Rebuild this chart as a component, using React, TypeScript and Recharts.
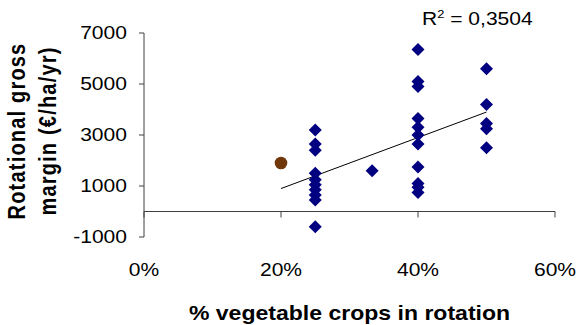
import {
  ScatterChart,
  Scatter,
  XAxis,
  YAxis,
  ReferenceLine,
} from "recharts";

// Gross margin per rotation, grouped by share of vegetable crops (%).
const SHARE_25 = [3200, 2650, 2400, 1500, 1250, 1050, 850, 650, 450, -600];
const SHARE_33 = [1600];
const SHARE_40 = [6350, 5100, 4900, 3650, 3300, 3000, 2650, 1750, 1100, 950, 750];
const SHARE_50 = [5600, 4200, 3450, 3250, 2500];

// The odd one out, drawn as a brown dot.
const OUTLIER = [{ x: 20, y: 1900 }];

// Linear trend as drawn in the source (ends).
const TREND = [
  { x: 20, y: 900 },
  { x: 50, y: 3900 },
];
const R2_LABEL = "0,3504";

const X_TICKS = [0, 20, 40, 60];
const Y_TICKS = [-1000, 1000, 3000, 5000, 7000];

const FONT = "'Liberation Sans', Arial, sans-serif";
const AXIS = "#404040";
const NAVY = "#000080";
// source picture is stretched a bit sideways, so is its text
const SX = 1.17;
// pixel row of the y = 0 line (plot top 33, height 204, domain -1000..7000)
const ZERO_Y = 33 + (7000 / 8000) * 204;

const points = [
  ...SHARE_25.map((y) => ({ x: 25, y })),
  ...SHARE_33.map((y) => ({ x: 33.3, y })),
  ...SHARE_40.map((y) => ({ x: 40, y })),
  ...SHARE_50.map((y) => ({ x: 50, y })),
];

function SText({
  x,
  y,
  anchor = "start",
  dy,
  size = 18,
  bold = false,
  rotate = false,
  spacing = 0,
  children,
}: any) {
  return (
    <g transform={`translate(${x},${y}) scale(${SX},1)${rotate ? " rotate(-90)" : ""}`}>
      <text
        x={0}
        y={0}
        dy={dy}
        textAnchor={anchor}
        fontFamily={FONT}
        fontSize={size}
        fontWeight={bold ? "bold" : "normal"}
        letterSpacing={spacing}
        fill="#000"
      >
        {children}
      </text>
    </g>
  );
}

function Diamond({ cx, cy }: any) {
  const r = 6.5;
  return (
    <polygon
      points={`${cx},${cy - r} ${cx + r},${cy} ${cx},${cy + r} ${cx - r},${cy}`}
      fill={NAVY}
    />
  );
}

function Dot({ cx, cy }: any) {
  return <circle cx={cx} cy={cy} r={6.3} fill="#70380a" />;
}

function XTick({ x, y, payload }: any) {
  return (
    <g>
      <line x1={x} x2={x} y1={ZERO_Y} y2={ZERO_Y + 6} stroke={AXIS} />
      <SText x={x} y={y} anchor="middle" dy="0.71em">
        {`${payload.value}%`}
      </SText>
    </g>
  );
}

function YTick({ x, y, payload }: any) {
  return (
    <SText x={x} y={y} anchor="end" dy="0.355em">
      {payload.value}
    </SText>
  );
}

// Y title (two lines) plus the R² note in the top right.
function Titles() {
  return (
    <g>
      <SText x={17} y={131} anchor="middle" dy="0.35em" size={20} bold rotate spacing={1.2}>
        Rotational gross
      </SText>
      <SText x={48} y={131} anchor="middle" dy="0.35em" size={20} bold rotate spacing={1.2}>
        margin (€/ha/yr)
      </SText>
      <SText x={422} y={25} size={18}>
        R<tspan fontSize={11} dy={-7}>2</tspan>
        <tspan dy={7}>{` = ${R2_LABEL}`}</tspan>
      </SText>
    </g>
  );
}

function XTitle({ viewBox }: any) {
  const cx = viewBox.x + viewBox.width / 2;
  return (
    <SText x={cx} y={319.5} anchor="middle" size={19.7} bold>
      % vegetable crops in rotation
    </SText>
  );
}

export default function App() {
  return (
    <div style={{ position: "absolute", left: 0, top: 0, background: "#fff" }}>
      <ScatterChart
        width={577}
        height={325}
        margin={{ top: 33, right: 22, left: 84, bottom: 58 }}
      >
        <XAxis
          type="number"
          dataKey="x"
          domain={[0, 60]}
          ticks={X_TICKS}
          axisLine={false}
          tickLine={false}
          tickSize={6}
          tickMargin={20}
          height={30}
          tick={<XTick />}
          label={{ content: <XTitle /> }}
        />
        <YAxis
          type="number"
          dataKey="y"
          domain={[-1000, 7000]}
          ticks={Y_TICKS}
          width={60}
          stroke={AXIS}
          tickSize={5}
          tickMargin={12}
          tick={<YTick />}
          label={{ content: <Titles /> }}
        />
        <ReferenceLine y={0} stroke={AXIS} strokeWidth={1} />
        <Scatter
          data={TREND}
          line={{ stroke: "#000", strokeWidth: 1 }}
          shape={() => <g />}
          isAnimationActive={false}
        />
        <Scatter data={points} shape={<Diamond />} isAnimationActive={false} />
        <Scatter data={OUTLIER} shape={<Dot />} isAnimationActive={false} />
      </ScatterChart>
    </div>
  );
}
